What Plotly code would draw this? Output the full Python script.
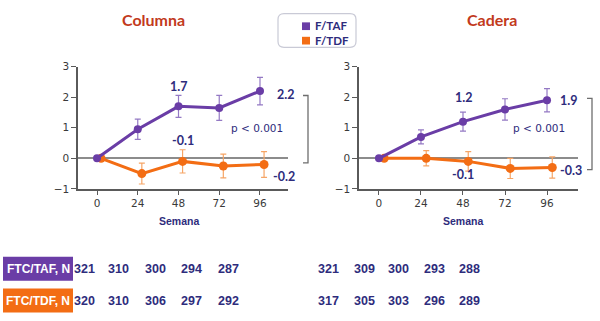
import plotly.graph_objects as go

# ---- data -------------------------------------------------------------
weeks = [0, 24, 48, 72, 96]

spine_taf = [0, 0.95, 1.7, 1.65, 2.2]
spine_taf_err = [0, 0.33, 0.36, 0.41, 0.45]
spine_tdf = [0, -0.5, -0.1, -0.25, -0.2]
spine_tdf_err = [0, 0.34, 0.38, 0.39, 0.42]

hip_taf = [0, 0.7, 1.2, 1.6, 1.9]
hip_taf_err = [0, 0.23, 0.31, 0.35, 0.38]
hip_tdf = [0, 0.0, -0.1, -0.33, -0.3]
hip_tdf_err = [0, 0.25, 0.32, 0.33, 0.35]

n_spine_taf = [321, 310, 300, 294, 287]
n_spine_tdf = [320, 310, 306, 297, 292]
n_hip_taf = [321, 309, 300, 293, 288]
n_hip_tdf = [317, 305, 303, 296, 289]

panel_titles = ["Columna", "Cadera"]
series_names = ["F/TAF", "F/TDF"]
row_labels = ["FTC/TAF, N", "FTC/TDF, N"]
p_text = "p < 0.001"
x_title = "Semana"

# ---- styles -----------------------------------------------------------
W, H = 600, 321
PURPLE = "#6A3DA6"
PURPLE_ERR = "#9479C4"
ORANGE = "#F36D14"
ORANGE_ERR = "#F6A566"
NAVY = "#2E2C7C"
TITLE_RED = "#C23A1C"
AXIS = "#5A5A5A"


def px(x):
    return x / W


def py(y):
    return 1 - y / H


def note(text, x, y, font, xanchor="center", **kw):
    """Paper-positioned text given in pixel coordinates."""
    return dict(text=text, x=px(x), y=py(y), xref="paper", yref="paper",
                xanchor=xanchor, yanchor="middle", showarrow=False, font=font, **kw)


fig = go.Figure()

panels = [
    dict(xa="x", ya="y", taf=spine_taf, taf_e=spine_taf_err, tdf=spine_tdf,
         tdf_e=spine_tdf_err, off=2.4),
    dict(xa="x2", ya="y2", taf=hip_taf, taf_e=hip_taf_err, tdf=hip_tdf,
         tdf_e=hip_tdf_err, off=3.0),
]

for p in panels:
    fig.add_trace(go.Scatter(
        x=[w + p["off"] for w in weeks], y=p["tdf"], mode="lines+markers",
        xaxis=p["xa"], yaxis=p["ya"], showlegend=False,
        line=dict(color=ORANGE, width=3), marker=dict(color=ORANGE, size=9),
        error_y=dict(type="data", array=p["tdf_e"], color=ORANGE_ERR,
                     thickness=1.2, width=3),
        cliponaxis=False))
    fig.add_trace(go.Scatter(
        x=weeks, y=p["taf"], mode="lines+markers",
        xaxis=p["xa"], yaxis=p["ya"], showlegend=False,
        line=dict(color=PURPLE, width=3), marker=dict(color=PURPLE, size=8),
        error_y=dict(type="data", array=p["taf_e"], color=PURPLE_ERR,
                     thickness=1.2, width=3),
        cliponaxis=False))

axis_common = dict(showline=True, linecolor=AXIS, linewidth=1.5, ticks="outside",
                   tickcolor=AXIS, showgrid=False,
                   tickfont=dict(family="DejaVu Sans", size=10.5, color="#3A3A3A"))
xcommon = dict(axis_common, tickvals=weeks, ticklen=4, zeroline=False)
ycommon = dict(axis_common, range=[-1, 3], tickvals=[-1, 0, 1, 2, 3], ticklen=5,
               zeroline=True, zerolinecolor="#8C8C8C", zerolinewidth=2)

fig.update_layout(
    width=W, height=H, margin=dict(l=0, r=0, t=0, b=0),
    paper_bgcolor="white", plot_bgcolor="white",
    xaxis=dict(xcommon, domain=[px(78), px(288)], range=[-11.2, 112.5], anchor="y"),
    yaxis=dict(ycommon, domain=[py(190), py(63)], anchor="x"),
    xaxis2=dict(xcommon, domain=[px(359), px(578)], range=[-11.4, 113.7], anchor="y2"),
    yaxis2=dict(ycommon, domain=[py(190), py(63)], anchor="x2"),
)

ann = []
shapes = []

# panel titles
for title, cx in zip(panel_titles, [153, 492]):
    ann.append(note(f"<b>{title}</b>", cx, 14,
                    dict(family="Lato", size=16, color=TITLE_RED)))

# x-axis titles
for cx in [179, 463]:
    ann.append(note(f"<b>{x_title}</b>", cx, 223,
                    dict(family="Liberation Sans", size=10.5, color=NAVY)))

# value labels next to points
label_font = dict(family="Lato", size=12.5, color=NAVY)
value_labels = [
    ("x", "y", 48, spine_taf[2], 0, 20),
    ("x", "y", 96, spine_taf[4], 26, -3),
    ("x", "y", 48 + 2.4, spine_tdf[2], 0, 21),
    ("x", "y", 96 + 2.4, spine_tdf[4], 20, -12),
    ("x2", "y2", 48, hip_taf[2], 1, 24),
    ("x2", "y2", 96, hip_taf[4], 21, 0),
    ("x2", "y2", 48 + 3.0, hip_tdf[2], -5, -13),
    ("x2", "y2", 96 + 3.0, hip_tdf[4], 19, -3),
]
for xa, ya, xv, yv, dx, dy in value_labels:
    ann.append(dict(text=f"<b>{yv:.1f}</b>", x=xv, y=yv, xref=xa, yref=ya,
                    xanchor="center", yanchor="middle",
                    xshift=dx, yshift=dy, showarrow=False, font=label_font))

# p-values
for cx in [257, 539]:
    ann.append(note(p_text, cx, 127, dict(family="DejaVu Sans", size=10.5, color=NAVY)))

# brackets
for bx, top, bot in [(308, 93, 163), (592, 96, 170)]:
    path = (f"M {px(bx - 5)},{py(top)} L {px(bx)},{py(top)} L {px(bx)},{py(bot)} "
            f"L {px(bx - 5)},{py(bot)}")
    shapes.append(dict(type="path", path=path, xref="paper", yref="paper",
                       line=dict(color="#6E6E6E", width=1.3)))

# legend box (rounded)
x0, x1, y0, y1, r = 278, 356, 8, 43, 6
path = (f"M {px(x0 + r)},{py(y0)} L {px(x1 - r)},{py(y0)} "
        f"Q {px(x1)},{py(y0)} {px(x1)},{py(y0 + r)} L {px(x1)},{py(y1 - r)} "
        f"Q {px(x1)},{py(y1)} {px(x1 - r)},{py(y1)} L {px(x0 + r)},{py(y1)} "
        f"Q {px(x0)},{py(y1)} {px(x0)},{py(y1 - r)} L {px(x0)},{py(y0 + r)} "
        f"Q {px(x0)},{py(y0)} {px(x0 + r)},{py(y0)} Z")
shapes.append(dict(type="path", path=path, xref="paper", yref="paper",
                   line=dict(color="#C9CAD6", width=1.2), fillcolor="white"))
for color, cy in zip([PURPLE, ORANGE], [21, 36]):
    shapes.append(dict(type="rect", xref="paper", yref="paper",
                       x0=px(302), x1=px(310), y0=py(cy - 4), y1=py(cy + 4),
                       fillcolor=color, line=dict(width=0)))
# both legend entries in one stacked text block
ann.append(note("<br>".join(f"<b>{n}</b>" for n in series_names), 313, 28.5,
                dict(family="Lato", size=11.5, color=NAVY), xanchor="left", align="left"))

# bottom N table
left_cols = [84, 118, 155, 191, 228]
right_cols = [328, 364, 398, 434, 469]
narrow = "Liberation Sans Narrow, Liberation Sans"
rows = [
    (row_labels[0], PURPLE, 273, n_spine_taf, n_hip_taf),
    (row_labels[1], ORANGE, 306, n_spine_tdf, n_hip_tdf),
]
for label, color, cy, left_vals, right_vals in rows:
    shapes.append(dict(type="rect", xref="paper", yref="paper",
                       x0=px(3), x1=px(73), y0=py(cy - 12.5), y1=py(cy + 12.5),
                       fillcolor=color, line=dict(width=0)))
    ann.append(note(f"<b>{label}</b>", 38, cy, dict(family=narrow, size=12, color="white")))
    for cols, vals in [(left_cols, left_vals), (right_cols, right_vals)]:
        for cx, v in zip(cols, vals):
            ann.append(note(f"<b>{v}</b>", cx, cy, dict(family=narrow, size=12.5, color=NAVY)))

fig.update_layout(annotations=ann, shapes=shapes)
fig.write_html("out.html")
